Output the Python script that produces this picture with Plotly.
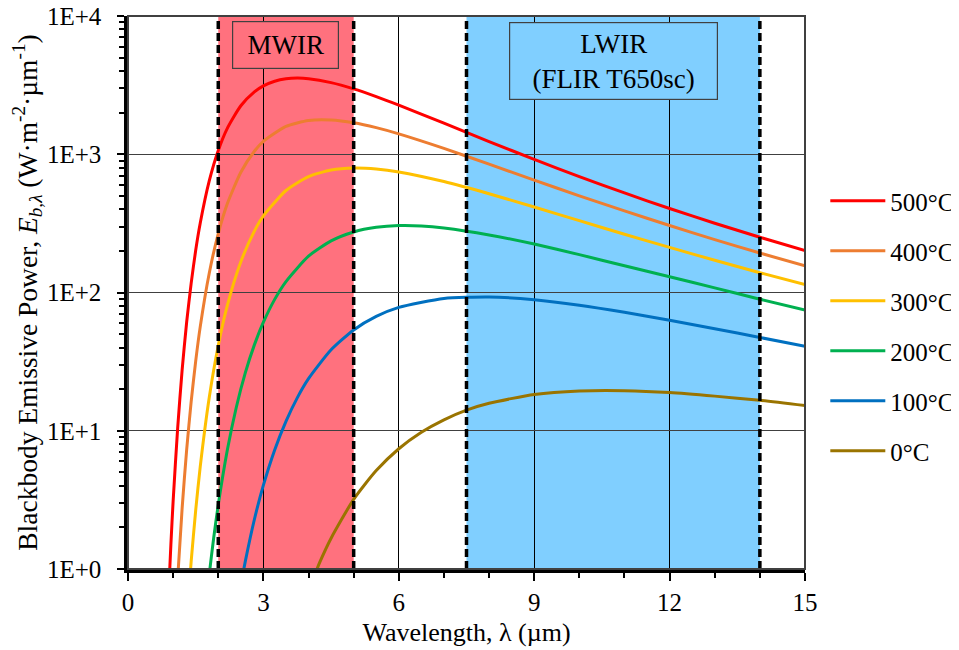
import plotly.graph_objects as go

# Wavelength (µm) and blackbody emissive power (W·m-2·µm-1)
lam_500 = [0.9, 0.95, 1.0, 1.1, 1.2, 1.3, 1.4, 1.5, 1.6, 1.8, 2.0, 2.2, 2.5, 2.8, 3.0, 3.25, 3.5, 3.75, 4.0, 4.5, 5.0, 5.5, 6.0, 7.0, 8.0, 9.0, 10, 11, 12, 13, 14, 15]
E_500 = [0.66, 1.50, 3.10, 10.4, 27.7, 61.2, 117, 202, 317, 641, 1064, 1540, 2243, 2824, 3123, 3376, 3514, 3555, 3520, 3296, 2969, 2612, 2267, 1677, 1236, 918, 689, 525, 405, 317, 251, 201]

lam_400 = [1.1, 1.2, 1.3, 1.4, 1.5, 1.6, 1.8, 2.0, 2.2, 2.5, 2.8, 3.0, 3.5, 4.0, 4.5, 5.0, 5.5, 6.0, 7.0, 8.0, 9, 10, 11, 12, 13, 14, 15]
E_400 = [0.846, 2.77, 7.29, 16.3, 31.9, 56.4, 138, 267, 438, 742, 1052, 1241, 1591, 1755, 1770, 1690, 1558, 1405, 1103, 848, 650, 500, 389, 305, 241, 193, 156]

lam_300 = [1.3, 1.4, 1.5, 1.6, 1.8, 2.0, 2.2, 2.5, 2.8, 3.0, 3.5, 4.0, 4.5, 5.0, 5.5, 6.0, 7.0, 8.0, 9, 10, 11, 12, 13, 14, 15]
E_300 = [0.414, 1.14, 2.66, 5.48, 17.4, 41.4, 80.4, 167, 278, 358, 547, 689, 769, 796, 783, 745, 635, 518, 415, 331, 264, 212, 171, 139, 114]

lam_200 = [1.7, 1.8, 1.9, 2.0, 2.2, 2.4, 2.6, 2.8, 3.0, 3.25, 3.5, 4.0, 4.5, 5.0, 5.5, 6.0, 6.5, 7.0, 8, 9, 10, 11, 12, 13, 14, 15]
E_200 = [0.449, 0.912, 1.69, 2.92, 7.22, 14.8, 26.3, 41.8, 61.0, 89.2, 120, 183, 236, 274, 296, 305, 303, 293, 261, 224, 188, 156, 130, 108, 89.5, 74.7]

lam_100 = [2.4, 2.5, 2.6, 2.8, 3.0, 3.25, 3.5, 3.75, 4.0, 4.5, 5.0, 5.5, 6.0, 7, 8, 9, 10, 11, 12, 13, 14, 15]
E_100 = [0.495, 0.768, 1.14, 2.28, 4.04, 7.27, 11.7, 17.3, 23.8, 38.5, 53.6, 67.1, 78.0, 90.6, 92.9, 88.6, 80.9, 71.9, 63.0, 54.7, 47.3, 40.8]

lam_0 = [4.0, 4.25, 4.5, 5.0, 5.5, 6.0, 6.5, 7.0, 7.5, 8, 9, 10, 11, 12, 13, 14, 15]
E_0 = [0.698, 1.12, 1.67, 3.19, 5.15, 7.41, 9.75, 12.0, 14.1, 15.8, 18.3, 19.4, 19.5, 18.9, 17.8, 16.6, 15.2]

series_names = ["500°C", "400°C", "300°C", "200°C", "100°C", "0°C"]
series_colors = ["#FF0000", "#ED7D31", "#FFC000", "#00B050", "#0070C0", "#9A7400"]
series_x = [lam_500, lam_400, lam_300, lam_200, lam_100, lam_0]
series_y = [E_500, E_400, E_300, E_200, E_100, E_0]

# Bands (µm)
mwir_band = [2, 5]
lwir_band = [7.5, 14]
band_labels = ["MWIR", "LWIR<br>(FLIR T650sc)"]

x_ticks = [0, 3, 6, 9, 12, 15]
x_minor = [1, 2, 4, 5, 7, 8, 10, 11, 13, 14]
y_ticks = [1, 10, 100, 1000, 10000]
y_ticktext = ["1E+0", "1E+1", "1E+2", "1E+3", "1E+4"]
y_minor = [m * 10 ** k for k in range(4) for m in range(2, 10)]

FONT = "Liberation Serif, Times New Roman, serif"

fig = go.Figure()
for i, (nm, col, xs, ys) in enumerate(zip(series_names, series_colors, series_x, series_y)):
    fig.add_trace(go.Scatter(x=xs, y=ys, mode="lines", name=nm, legendgroup=str(i),
                             line=dict(color=col, width=3, shape="spline", smoothing=0.6)))

shapes = []
shapes.append(dict(type="rect", xref="x", yref="paper", x0=mwir_band[0], x1=mwir_band[1], y0=0, y1=1,
                   fillcolor="#FF717E", line=dict(width=0), layer="below"))
shapes.append(dict(type="rect", xref="x", yref="paper", x0=lwir_band[0], x1=lwir_band[1], y0=0, y1=1,
                   fillcolor="#80CFFF", line=dict(width=0), layer="below"))
for xv in mwir_band + lwir_band:
    shapes.append(dict(type="line", xref="x", yref="paper", x0=xv, x1=xv, y0=0, y1=1,
                       line=dict(color="black", width=3.5, dash="8px,4px"), layer="above"))
shapes.append(dict(type="rect", xref="paper", yref="paper", x0=0, x1=1, y0=0, y1=1,
                   line=dict(color="#404040", width=2), layer="above"))
fig.update_layout(shapes=shapes)

fig.add_annotation(x=sum(mwir_band) / 2, xref="x", y=0.9467, yref="paper", yanchor="middle",
                   xanchor="center", text=band_labels[0], showarrow=False,
                   font=dict(family=FONT, size=27, color="black"),
                   bgcolor="#FF717E", bordercolor="#404040", borderwidth=1.2, width=103, height=44)
fig.add_annotation(x=sum(lwir_band) / 2, xref="x", y=0.9178, yref="paper", yanchor="middle",
                   xanchor="center", text=band_labels[1], showarrow=False,
                   font=dict(family=FONT, size=27, color="black"),
                   bgcolor="#80CFFF", bordercolor="#404040", borderwidth=1.2, width=205, height=74)

fig.update_xaxes(range=[0, 15], tickmode="array", tickvals=x_ticks, ticks="outside", ticklen=8,
                 tickwidth=2, tickcolor="black", showline=True, linecolor="black", linewidth=3.5,
                 showgrid=True, gridcolor="black", gridwidth=1, zeroline=False,
                 minor=dict(tickmode="array", tickvals=x_minor, ticks="outside", ticklen=5, tickwidth=2,
                            tickcolor="black", showgrid=False),
                 tickfont=dict(family=FONT, size=25, color="black"),
                 title=dict(text="Wavelength, λ (µm)", font=dict(family=FONT, size=26, color="black"), standoff=9))
fig.update_yaxes(type="log", range=[0, 4.0001], tickmode="array", tickvals=y_ticks, ticktext=y_ticktext,
                 ticks="outside", ticklen=7, tickwidth=2, tickcolor="black", showline=True,
                 linecolor="black", linewidth=3.5, showgrid=True, gridcolor="#404040", gridwidth=1.2,
                 zeroline=False, ticklabelstandoff=11, ticklabeloverflow="allow",
                 minor=dict(tickmode="array", tickvals=y_minor, ticks="outside", ticklen=5, tickwidth=2,
                            tickcolor="black", showgrid=False),
                 tickfont=dict(family=FONT, size=25, color="black"),
                 title=dict(text="Blackbody Emissive Power, <i>E</i><sub><i>b,λ</i></sub> (W·m<sup>-2</sup>·µm<sup>-1</sup>)",
                            font=dict(family=FONT, size=27.5, color="black"), standoff=6))

# the page body adds an 8px offset; size the figure so it fills the 959x650 window
fig.update_layout(
    width=951, height=642,
    margin=dict(l=120, r=154, t=8, b=81, autoexpand=False),
    paper_bgcolor="white", plot_bgcolor="white",
    font=dict(family=FONT, color="black"),
    legend=dict(x=1.03, xanchor="left", y=0.707, yanchor="top", traceorder="grouped", tracegroupgap=14.5,
                font=dict(family=FONT, size=25, color="black"), bgcolor="rgba(0,0,0,0)", itemwidth=55),
)
fig.write_html("out.html")
